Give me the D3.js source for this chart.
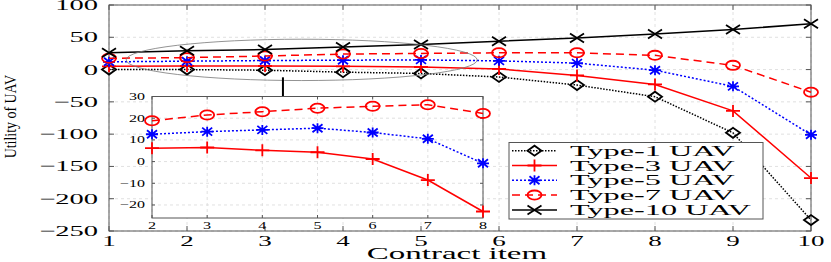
<!DOCTYPE html>
<html>
<head>
<meta charset="utf-8">
<style>
  body { margin: 0; background: #fff; }
  text { font-family: "Liberation Serif", "Times New Roman", serif; fill: #000; }
</style>
</head>
<body>
<div id="chart"></div>
<script src="https://d3js.org/d3.v7.min.js"></script>
<script>
// data
var items = [1, 2, 3, 4, 5, 6, 7, 8, 9, 10];
var type1 = [0, 0, -1, -4, -6, -11.5, -24, -42, -98, -233];
var type3 = [5, 5.5, 5.5, 5, 4, 1, -9, -23, -64, -168];
var type5 = [12, 13, 14, 14.5, 15, 13.5, 10, -1, -26, -101];
var type7 = [17.5, 18.5, 21, 24, 25, 26, 26, 22, 6.5, -35];
var type10 = [26, 29, 31, 35, 39, 44, 49, 55, 62, 71];
var yTicks = [100, 50, 0, -50, -100, -150, -200, -250];

var insetItems = [2, 3, 4, 5, 6, 7, 8];
var inset3 = [6.2, 6.5, 5.2, 4.3, 1.2, -8.5, -23];
var inset5 = [12.6, 13.8, 14.6, 15.4, 13.4, 10.5, -0.8];
var inset7 = [18.8, 21.5, 23, 24.6, 25.5, 26.2, 22.2];
var insetYTicks = [30, 20, 10, 0, -10, -20];

var names = ["Type-1 UAV", "Type-3 UAV", "Type-5 UAV", "Type-7 UAV", "Type-10 UAV"];

var width = 831, height = 262;
var svg = d3.select("#chart").append("svg")
  .attr("width", width).attr("height", height);

var x = d3.scaleLinear().domain([1, 10]).range([109, 811]);
var y = d3.scaleLinear().domain([-250, 100]).range([231, 5]);
var xi = d3.scaleLinear().domain([2, 8]).range([152, 483]);
var yi = d3.scaleLinear().domain([-26, 30]).range([218, 96.5]);

// stretch text horizontally like the squashed original,
// anchoring by hand so textLength doesn't shift it
function stretch(sel, k, anchor) {
  sel.each(function() {
    var t = d3.select(this);
    var len = this.getComputedTextLength();
    var L = len * k;
    var x0 = +t.attr("x") || 0;
    var xs = anchor == "end" ? x0 - L : anchor == "middle" ? x0 - L / 2 : x0;
    t.attr("text-anchor", "start").attr("x", xs)
      .attr("textLength", L).attr("lengthAdjust", "spacingAndGlyphs");
  });
}

var styles = [
  {color: "#000", dash: "1.5,1.5", marker: "diamond"},
  {color: "#f00", dash: null, marker: "plus"},
  {color: "#00f", dash: "2,2", marker: "star"},
  {color: "#f00", dash: "8,5", marker: "circle"},
  {color: "#000", dash: null, marker: "cross"}
];

function drawMarker(g, type, cx, cy, color) {
  var m;
  if (type == "circle") {
    m = g.append("ellipse").attr("cx", cx).attr("cy", cy).attr("rx", 7).attr("ry", 4.6);
  } else {
    var p = {
      diamond: "M-7,0L0,-5L7,0L0,5Z",
      plus: "M-7,0H7M0,-6V6",
      star: "M-6,0H6M0,-5V5M-5,-4L5,4M-5,4L5,-4",
      cross: "M-7,-4.5L7,4.5M-7,4.5L7,-4.5"
    }[type];
    m = g.append("path").attr("d", p).attr("transform", "translate(" + cx + "," + cy + ")");
  }
  m.attr("fill", "none").attr("stroke", color).attr("stroke-width", 1.8);
}

function drawSeries(g, xs, ys, xv, yv, st) {
  var line = d3.line().x(function(d, i) { return xs(xv[i]); }).y(function(d) { return ys(d); });
  g.append("path").datum(yv)
    .attr("d", line)
    .attr("fill", "none")
    .attr("stroke", st.color)
    .attr("stroke-width", 1.5)
    .attr("stroke-dasharray", st.dash);
  yv.forEach(function(v, i) { drawMarker(g, st.marker, xs(xv[i]), ys(v), st.color); });
}

function drawGrid(g, xs, ys, xt, yt) {
  var r0 = xs.range(), d0 = ys.range();
  xt.forEach(function(t) {
    g.append("line").attr("x1", xs(t)).attr("x2", xs(t)).attr("y1", d0[0]).attr("y2", d0[1])
      .attr("stroke", "#d8d8d8").attr("stroke-width", 0.8).attr("stroke-dasharray", "3,3");
  });
  yt.forEach(function(t) {
    g.append("line").attr("x1", r0[0]).attr("x2", r0[1]).attr("y1", ys(t)).attr("y2", ys(t))
      .attr("stroke", "#d8d8d8").attr("stroke-width", 0.8).attr("stroke-dasharray", "3,3");
  });
}

function drawFrame(g, xs, ys, xt, yt, tl) {
  var r0 = xs.range(), d0 = ys.range();
  g.append("rect").attr("x", r0[0]).attr("y", d0[1]).attr("width", r0[1] - r0[0]).attr("height", d0[0] - d0[1])
    .attr("fill", "none").attr("stroke", "#555").attr("stroke-width", 1);
  xt.forEach(function(t) {
    g.append("line").attr("x1", xs(t)).attr("x2", xs(t)).attr("y1", d0[0]).attr("y2", d0[0] - tl).attr("stroke", "#555");
    g.append("line").attr("x1", xs(t)).attr("x2", xs(t)).attr("y1", d0[1]).attr("y2", d0[1] + tl).attr("stroke", "#555");
  });
  yt.forEach(function(t) {
    g.append("line").attr("x1", r0[0]).attr("x2", r0[0] + tl).attr("y1", ys(t)).attr("y2", ys(t)).attr("stroke", "#555");
    g.append("line").attr("x1", r0[1]).attr("x2", r0[1] - tl).attr("y1", ys(t)).attr("y2", ys(t)).attr("stroke", "#555");
  });
}

// main axes
svg.append("rect").attr("width", width).attr("height", height).attr("fill", "#fff");
var main = svg.append("g");
drawGrid(main, x, y, items, yTicks);
drawFrame(main, x, y, items, yTicks, 5);

var fmt = function(v) { return String(v).replace("-", "\u2212"); };
main.selectAll(".ytl").data(yTicks).enter().append("text")
  .attr("x", 98).attr("y", function(d) { return y(d) + 5; })
  .attr("font-size", "15px")
  .text(fmt).call(stretch, 1.9, "end");
main.selectAll(".xtl").data(items).enter().append("text")
  .attr("x", function(d) { return x(d); }).attr("y", 246)
  .attr("font-size", "15px")
  .text(function(d) { return d; }).call(stretch, 1.8, "middle");

// y title: drawn upright in a rotated group
var yTitle = svg.append("g").attr("transform", "translate(15.5," + y(-73) + ") rotate(-90)");
yTitle.append("text").attr("x", 0).attr("y", 0).attr("font-size", "16px")
  .text("Utility of UAV").call(stretch, 0.87, "middle");
svg.append("text").attr("x", (x(5) + x(6)) / 2 - 3).attr("y", 259)
  .attr("font-size", "16px")
  .text("Contract item").call(stretch, 2.06, "middle");

var series = [type1, type3, type5, type7, type10];
series.forEach(function(s, i) { drawSeries(main, x, y, items, s, styles[i]); });

// ellipse around the zoomed region + arrow
svg.append("ellipse")
  .attr("cx", x(3.47)).attr("cy", y(15)).attr("rx", x(5.72) - x(3.47)).attr("ry", y(-17) - y(15))
  .attr("fill", "none").attr("stroke", "#777").attr("stroke-width", 0.8);
var ax = x(3.23);
svg.append("line").attr("x1", ax).attr("x2", ax).attr("y1", y(-12)).attr("y2", y(-55))
  .attr("stroke", "#000").attr("stroke-width", 2);
svg.append("path")
  .attr("d", "M" + (ax - 5) + "," + (y(-55) - 8) + "L" + ax + "," + y(-56) + "L" + (ax + 5) + "," + (y(-55) - 8))
  .attr("fill", "none").attr("stroke", "#000").attr("stroke-width", 2);

// inset
var inset = svg.append("g");
inset.append("rect").attr("x", 152).attr("y", 96.5).attr("width", 331).attr("height", 121.5).attr("fill", "#fff");
drawGrid(inset, xi, yi, insetItems, insetYTicks);
drawFrame(inset, xi, yi, insetItems, insetYTicks, 3);
inset.selectAll(".iyt").data(insetYTicks).enter().append("text")
  .attr("x", 145).attr("y", function(d) { return yi(d) + 3.5; })
  .attr("font-size", "10px")
  .text(fmt).call(stretch, 1.6, "end");
inset.selectAll(".ixt").data(insetItems).enter().append("text")
  .attr("x", function(d) { return xi(d); }).attr("y", 229)
  .attr("font-size", "9.5px")
  .text(function(d) { return d; }).call(stretch, 1.7, "middle");
[inset3, inset5, inset7].forEach(function(s, i) { drawSeries(inset, xi, yi, insetItems, s, styles[i + 1]); });

// legend
var leg = svg.append("g");
leg.append("rect").attr("x", 509).attr("y", 142.5).attr("width", 254).attr("height", 76.5)
  .attr("fill", "#fff").attr("stroke", "#555").attr("stroke-width", 1);
names.forEach(function(n, i) {
  var ly = 150.7 + i * 14.8;
  var st = styles[i];
  leg.append("line").attr("x1", 512).attr("x2", 557).attr("y1", ly).attr("y2", ly)
    .attr("stroke", st.color).attr("stroke-width", 1.5).attr("stroke-dasharray", st.dash);
  drawMarker(leg, st.marker, 534.5, ly, st.color);
  leg.append("text").attr("x", 570).attr("y", ly + 5).attr("font-size", "15px")
    .text(n).call(stretch, 2.15, "start");
});
</script>
</body>
</html>
